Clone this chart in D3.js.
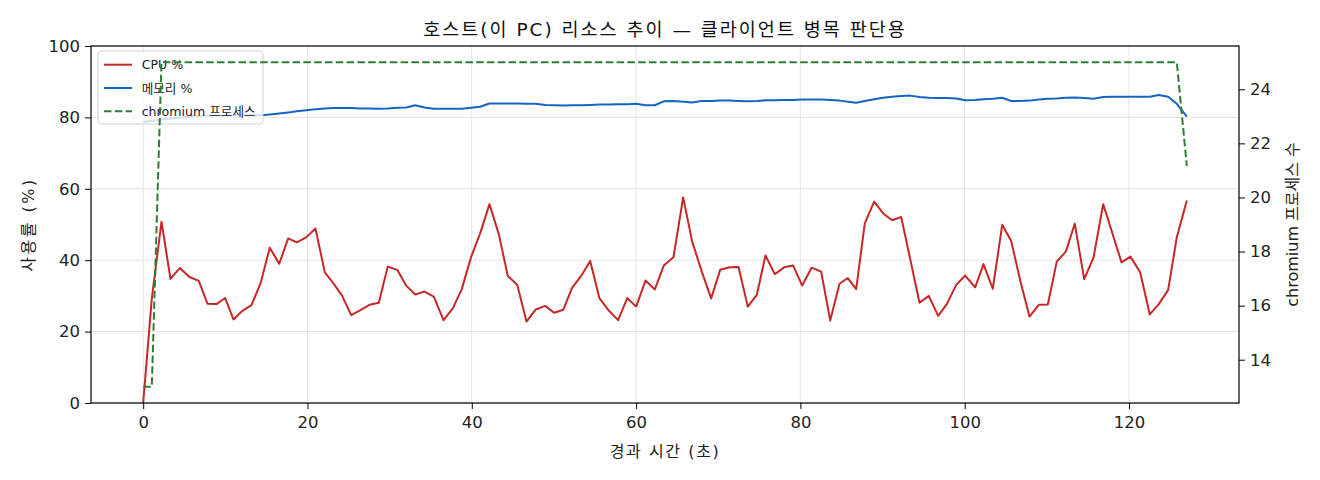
<!DOCTYPE html>
<html>
<head>
<meta charset="utf-8">
<style>
    body { margin: 0; background: #fff; }
    svg { display: block; font-family: "DejaVu Sans", "Noto Sans CJK KR", sans-serif; }
    .tick text { font-size: 16.5px; fill: #222; font-family: "DejaVu Sans", "Noto Sans CJK KR", sans-serif; }
    .tick line { stroke: #000; }
    .domain { display: none; }
    .grid line { stroke: #e4e4e4; stroke-width: 1px; }
</style>
</head>
<body>
<svg width="1320" height="480"></svg>

<script src="https://d3js.org/d3.v7.min.js"></script>
<script>
// sample times (seconds since start)
let times = [0, 1.05, 2.23, 3.32, 4.46, 5.64, 6.77, 7.83, 8.92, 9.98,
    10.99, 12.12, 13.18, 14.28, 15.41, 16.56, 17.65, 18.70, 19.84, 20.97,
    22.11, 23.16, 24.22, 25.32, 26.45, 27.55, 28.68, 29.77, 30.92, 32.05,
    33.11, 34.24, 35.37, 36.56, 37.69, 38.78, 39.93, 41.02, 42.15, 43.29,
    44.38, 45.53, 46.66, 47.79, 48.94, 50.03, 51.13, 52.22, 53.32, 54.41,
    55.55, 56.68, 57.82, 58.92, 60.01, 61.14, 62.28, 63.37, 64.55, 65.73,
    66.83, 68.00, 69.14, 70.24, 71.37, 72.47, 73.60, 74.70, 75.75, 76.89,
    78.03, 79.12, 80.22, 81.36, 82.53, 83.63, 84.76, 85.77, 86.79, 87.84,
    88.98, 90.08, 91.17, 92.27, 93.37, 94.50, 95.63, 96.77, 97.82, 98.97,
    100.06, 101.28, 102.29, 103.42, 104.57, 105.66, 106.79, 107.89, 109.02, 110.12,
    111.21, 112.31, 113.40, 114.55, 115.68, 116.86, 117.96, 119.09, 120.18, 121.36,
    122.53, 123.63, 124.77, 125.82, 127.04]

let cpu = [0, 29.3, 50.8, 34.8, 37.8, 35.3, 34.2, 27.8, 27.7, 29.4,
    23.4, 25.9, 27.4, 33.5, 43.5, 39.0, 46.1, 45.0, 46.4, 48.9,
    36.6, 33.5, 30.0, 24.6, 26.0, 27.5, 28.1, 38.2, 37.3, 32.8,
    30.4, 31.2, 29.8, 23.2, 26.5, 31.9, 41.0, 47.5, 55.7, 47.3,
    35.6, 33.1, 22.8, 26.2, 27.2, 25.3, 26.1, 32.3, 35.6, 39.8,
    29.3, 25.9, 23.2, 29.4, 27.0, 34.3, 31.8, 38.5, 40.8, 57.6,
    45.2, 36.8, 29.3, 37.3, 38.0, 38.1, 27.0, 30.3, 41.3, 36.1,
    38.0, 38.5, 32.9, 37.9, 36.8, 23.1, 33.4, 35.0, 31.9, 50.3,
    56.4, 53.1, 51.2, 52.1, 40.3, 28.1, 30.0, 24.4, 27.7, 33.1,
    35.7, 32.4, 38.9, 32.0, 49.9, 45.4, 34.0, 24.2, 27.5, 27.6,
    39.6, 42.4, 50.2, 34.7, 40.7, 55.7, 47.7, 39.4, 41.0, 36.6,
    24.8, 27.7, 31.7, 46.4, 56.7]

let mem = [78.8, 79.0, 79.4, 79.7, 79.9, 80.2, 80.4, 80.5, 80.5, 80.5,
    80.5, 80.6, 80.6, 80.6, 80.8, 81.1, 81.4, 81.7, 82.0, 82.3,
    82.5, 82.6, 82.6, 82.6, 82.5, 82.5, 82.4, 82.5, 82.7, 82.8,
    83.4, 82.8, 82.4, 82.4, 82.4, 82.4, 82.7, 83.0, 83.9, 83.9,
    83.9, 83.9, 83.8, 83.8, 83.5, 83.4, 83.3, 83.4, 83.4, 83.5,
    83.6, 83.6, 83.7, 83.7, 83.8, 83.4, 83.4, 84.5, 84.6, 84.4,
    84.2, 84.6, 84.6, 84.7, 84.7, 84.6, 84.5, 84.6, 84.8, 84.8,
    84.9, 84.9, 85.0, 85.0, 85.0, 84.9, 84.7, 84.4, 84.1, 84.6,
    85.1, 85.5, 85.8, 86.0, 86.1, 85.7, 85.5, 85.4, 85.4, 85.3,
    84.8, 84.9, 85.1, 85.2, 85.5, 84.6, 84.6, 84.7, 85.0, 85.2,
    85.3, 85.5, 85.6, 85.4, 85.2, 85.7, 85.8, 85.8, 85.8, 85.8,
    85.8, 86.3, 85.8, 83.8, 80.2]

let procs = [13, 13,
    25, 25, 25, 25, 25, 25, 25, 25, 25, 25, 25, 25, 25, 25,
    25, 25, 25, 25, 25, 25, 25, 25, 25, 25, 25, 25, 25, 25,
    25, 25, 25, 25, 25, 25, 25, 25, 25, 25, 25, 25, 25, 25,
    25, 25, 25, 25, 25, 25, 25, 25, 25, 25, 25, 25, 25, 25,
    25, 25, 25, 25, 25, 25, 25, 25, 25, 25, 25, 25, 25, 25,
    25, 25, 25, 25, 25, 25, 25, 25, 25, 25, 25, 25, 25, 25,
    25, 25, 25, 25, 25, 25, 25, 25, 25, 25, 25, 25, 25, 25,
    25, 25, 25, 25, 25, 25, 25, 25, 25, 25, 25, 25, 25, 25,
    21.16]

let xTicks = [0, 20, 40, 60, 80, 100, 120]
let yTicks = [0, 20, 40, 60, 80, 100]
let y2Ticks = [14, 16, 18, 20, 22, 24]

let seriesNames = ["CPU %", "메모리 %", "chromium 프로세스"]
let colors = ["#c62828", "#1565c0", "#2e7d32"]

let title = "호스트(이 PC) 리소스 추이 — 클라이언트 병목 판단용"
let xLabel = "경과 시간 (초)"
let yLabel = "사용률 (%)"
let y2Label = "chromium 프로세스 수"

let svg = d3.select("svg")
let margin = { top: 46, right: 81, bottom: 77, left: 91 }
let W = 1320, H = 480

let data = times.map((t, i) => ({ t: t, cpu: cpu[i], mem: mem[i], procs: procs[i] }))

// matplotlib-like 5% padding on x and on the right axis
let tMax = d3.max(times)
let x = d3.scaleLinear()
    .domain([-tMax * 0.05, tMax * 1.05])
    .range([margin.left, W - margin.right])

let y = d3.scaleLinear()
    .domain([0, 100])
    .range([H - margin.bottom, margin.top])

let pMin = d3.min(procs), pMax = d3.max(procs), pPad = (pMax - pMin) * 0.05
let y2 = d3.scaleLinear()
    .domain([pMin - pPad, pMax + pPad])
    .range([H - margin.bottom, margin.top])

// grid
svg.append("g").attr("class", "grid")
    .selectAll("line").data(xTicks).join("line")
    .attr("x1", d => x(d)).attr("x2", d => x(d))
    .attr("y1", margin.top).attr("y2", H - margin.bottom)

svg.append("g").attr("class", "grid")
    .selectAll("line").data(yTicks).join("line")
    .attr("x1", margin.left).attr("x2", W - margin.right)
    .attr("y1", d => y(d)).attr("y2", d => y(d))

// axes
svg.append("g")
    .attr("transform", `translate(0,${H - margin.bottom})`)
    .call(d3.axisBottom(x).tickValues(xTicks).tickSize(6).tickPadding(7))

svg.append("g")
    .attr("transform", `translate(${margin.left},0)`)
    .call(d3.axisLeft(y).tickValues(yTicks).tickSize(6).tickPadding(5))

svg.append("g")
    .attr("transform", `translate(${W - margin.right},0)`)
    .call(d3.axisRight(y2).tickValues(y2Ticks).tickSize(6).tickPadding(5))

// lines on the left axis
let cpuLine = d3.line().x(d => x(d.t)).y(d => y(d.cpu))
let memLine = d3.line().x(d => x(d.t)).y(d => y(d.mem))
let procLine = d3.line().x(d => x(d.t)).y(d => y2(d.procs))

svg.append("path").datum(data)
    .attr("d", cpuLine)
    .style("fill", "none").style("stroke", colors[0]).style("stroke-width", "2px")
    .style("stroke-linejoin", "round")

svg.append("path").datum(data)
    .attr("d", memLine)
    .style("fill", "none").style("stroke", colors[1]).style("stroke-width", "2px")
    .style("stroke-linejoin", "round")

// legend (belongs to left axes, so right-axis line goes over it)
let lg = svg.append("g").attr("transform", `translate(${margin.left + 7},${margin.top + 5})`)
lg.append("rect")
    .attr("width", 165).attr("height", 73).attr("rx", 3)
    .style("fill", "rgba(255,255,255,0.8)").style("stroke", "#d0d0d0")

seriesNames.forEach(function (name, i) {
    let row = lg.append("g").attr("transform", `translate(6,${13.7 + i * 23.3})`)
    row.append("line")
        .attr("x1", 0).attr("x2", 28).attr("y1", 0).attr("y2", 0)
        .style("stroke", colors[i]).style("stroke-width", "2px")
        .style("stroke-dasharray", i == 2 ? "7.5,3.3" : null)
    row.append("text")
        .attr("x", 37.7).attr("y", 4.6)
        .style("font-size", "12.6px").style("fill", "#222")
        .text(name)
})

svg.append("path").datum(data)
    .attr("d", procLine)
    .style("fill", "none").style("stroke", colors[2]).style("stroke-width", "2px")
    .style("stroke-dasharray", "7.5,3.3")

// frame
svg.append("rect")
    .attr("x", margin.left).attr("y", margin.top)
    .attr("width", W - margin.left - margin.right)
    .attr("height", H - margin.top - margin.bottom)
    .style("fill", "none").style("stroke", "#000").style("stroke-width", "1.2px")

// texts (the original Korean font runs wider, hence the letter spacing)
svg.append("text")
    .attr("x", (margin.left + W - margin.right) / 2).attr("y", 36)
    .style("text-anchor", "middle").style("font-size", "18.5px").style("fill", "#111")
    .style("letter-spacing", "2px")
    .text(title)

svg.append("text")
    .attr("x", (margin.left + W - margin.right) / 2).attr("y", 457)
    .style("text-anchor", "middle").style("font-size", "16px").style("fill", "#222")
    .style("letter-spacing", "1.6px")
    .text(xLabel)

svg.append("text")
    .attr("transform", `translate(34,${(margin.top + H - margin.bottom) / 2}) rotate(-90)`)
    .style("text-anchor", "middle").style("font-size", "16px").style("fill", "#222")
    .style("letter-spacing", "2.5px")
    .text(yLabel)

svg.append("text")
    .attr("transform", `translate(1298,${(margin.top + H - margin.bottom) / 2}) rotate(-90)`)
    .style("text-anchor", "middle").style("font-size", "16px").style("fill", "#222")
    .text(y2Label)
</script>
</body>
</html>
